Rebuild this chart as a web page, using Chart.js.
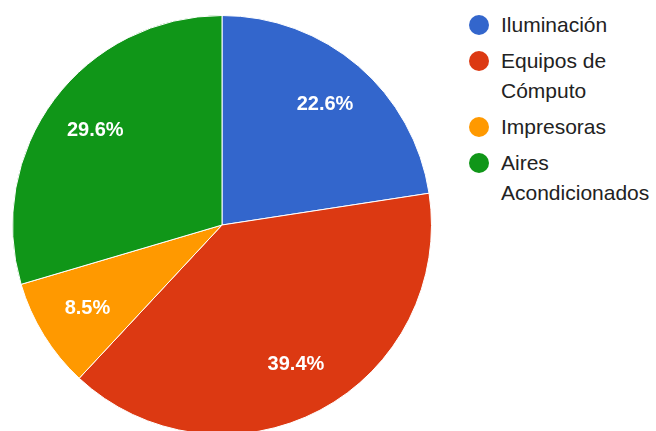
<!DOCTYPE html>
<html>
<head>
<meta charset="utf-8">
<script src="https://cdn.jsdelivr.net/npm/chart.js@4"></script>
<style>
  html, body { margin: 0; padding: 0; background: #fff; }
  body { width: 656px; height: 431px; overflow: hidden; position: relative; font-family: "Liberation Sans", Arial, sans-serif; }
  #pieBox { position: absolute; left: 12px; top: 15px; width: 420px; height: 420px; }
  #legend { position: absolute; left: 469px; top: 10px; width: 187px; }
  .item { display: flex; align-items: flex-start; margin-bottom: 6px; }
  .dot { width: 20px; height: 20px; border-radius: 50%; margin-top: 5px; margin-right: 12px; flex: none; }
  .txt { font-size: 21px; line-height: 30px; color: #222; width: 155px; }
</style>
</head>
<body>
<div id="pieBox"><canvas id="pieChart"></canvas></div>
<div id="legend"></div>
<script>
const categories = ["Iluminación", "Equipos de Cómputo", "Impresoras", "Aires Acondicionados"];
const values = [22.6, 39.4, 8.5, 29.6];
const sliceColors = ["#3366cc", "#dc3912", "#ff9900", "#109618"];

// etiquetas de porcentaje dentro de cada porción
const pctLabels = {
  id: "pctLabels",
  afterDatasetsDraw(chart) {
    const ctx = chart.ctx;
    const meta = chart.getDatasetMeta(0);
    ctx.save();
    ctx.fillStyle = "#ffffff";
    ctx.font = "bold 20px 'Liberation Sans', Arial, sans-serif";
    ctx.textAlign = "center";
    ctx.textBaseline = "middle";
    meta.data.forEach((arc, i) => {
      const p = arc.getProps(["x", "y", "startAngle", "endAngle", "outerRadius"], true);
      const mid = (p.startAngle + p.endAngle) / 2;
      const r = p.outerRadius * 0.755;
      ctx.fillText(values[i].toFixed(1) + "%", p.x + Math.cos(mid) * r, p.y + Math.sin(mid) * r);
    });
    ctx.restore();
  }
};

new Chart(document.getElementById("pieChart").getContext("2d"), {
  type: "pie",
  data: {
    labels: categories,
    datasets: [{
      data: values,
      backgroundColor: sliceColors,
      borderColor: "#ffffff",
      borderWidth: 1
    }]
  },
  options: {
    responsive: true,
    maintainAspectRatio: false,
    animation: false,
    layout: { padding: 0 },
    plugins: {
      legend: { display: false },
      tooltip: { enabled: false }
    }
  },
  plugins: [pctLabels]
});

/**
 * Leyenda a la derecha
 */
const legend = document.getElementById("legend");
categories.forEach((c, i) => {
  const item = document.createElement("div");
  item.className = "item";
  item.innerHTML = `<span class="dot" style="background:${sliceColors[i]}"></span><span class="txt">${c}</span>`;
  legend.appendChild(item);
});
</script>
</body>
</html>
